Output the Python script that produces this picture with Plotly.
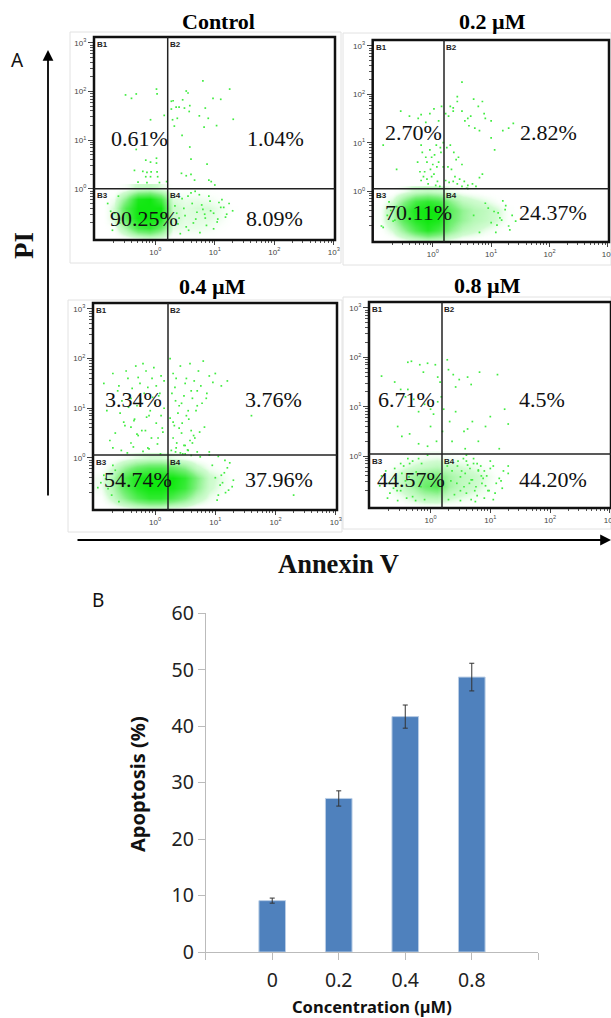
import plotly.graph_objects as go

W, H = 611, 1018

# ---------- Bar chart data ----------
concentrations = ["0", "0.2", "0.4", "0.8"]
apoptosis = [9.1, 27.2, 41.7, 48.7]
apoptosis_err = [0.45, 1.35, 2.05, 2.45]
y_ticks = [0, 10, 20, 30, 40, 50, 60]

# ---------- Flow cytometry: panel names and gate percentages (B1, B2, B3, B4) ----------
panel_names = ["Control", "0.2 µM", "0.4 µM", "0.8 µM"]
pct_control = ["0.61%", "1.04%", "90.25%", "8.09%"]
pct_02 = ["2.70%", "2.82%", "70.11%", "24.37%"]
pct_04 = ["3.34%", "3.76%", "54.74%", "37.96%"]
pct_08 = ["6.71%", "4.5%", "44.57%", "44.20%"]

# density: x / y decades of the grid, rows bottom to top
density_x = [-0.9, -0.7, -0.5, -0.3, -0.1, 0.1, 0.3, 0.5, 0.7, 0.9, 1.1, 1.3]
density_y = [-1.0, -0.8, -0.6, -0.4, -0.2, 0.0]
density_control = [
    [0, 0, .05, .12, .18, .12, .02, .02, .02, .01, 0, 0],
    [0, .05, .35, .75, .85, .6, .12, .1, .1, .08, .03, 0],
    [0, .15, .65, 1, 1, .95, .18, .12, .12, .12, .08, .01],
    [0, .15, .7, 1, 1, 1, .18, .12, .14, .14, .09, .02],
    [0, .08, .45, .95, 1, .75, .13, .1, .1, .08, .04, 0],
    [0, 0, .06, .18, .22, .12, .02, .02, .02, .01, 0, 0],
]
density_02 = [
    [0, .02, .1, .2, .3, .25, .12, .05, .03, .01, 0, 0],
    [.02, .15, .4, .7, .9, .75, .45, .25, .18, .1, .04, 0],
    [.05, .3, .65, .9, 1, .95, .6, .4, .28, .22, .14, .04],
    [.05, .3, .7, .95, 1, 1, .65, .42, .3, .24, .15, .04],
    [.01, .15, .45, .75, .85, .75, .45, .25, .18, .12, .05, 0],
    [0, .01, .08, .18, .22, .18, .08, .04, .02, 0, 0, 0],
]
density_04 = [
    [0, .03, .08, .15, .2, .2, .12, .08, .02, .01, 0, 0],
    [.03, .2, .45, .7, .85, .85, .7, .5, .25, .1, .02, 0],
    [.08, .3, .65, .9, 1, 1, .95, .8, .45, .18, .08, .01],
    [.08, .3, .7, .95, 1, 1, 1, .85, .5, .2, .1, .02],
    [.02, .15, .4, .6, .7, .7, .6, .45, .2, .08, .03, 0],
    [0, .01, .06, .12, .15, .15, .1, .06, .02, 0, 0, 0],
]
density_08 = [
    [0, 0, .01, .04, .07, .07, .04, .02, .01, .01, 0, 0],
    [0, .03, .1, .2, .32, .36, .22, .15, .1, .05, .01, 0],
    [.01, .07, .2, .36, .58, .68, .36, .24, .18, .1, .03, 0],
    [.01, .08, .2, .36, .48, .52, .36, .25, .2, .12, .05, .01],
    [0, .03, .08, .15, .2, .25, .2, .14, .1, .05, .02, 0],
    [0, 0, .01, .04, .07, .08, .05, .03, .01, 0, 0, 0],
]

# individual dots, as decades (log10) of Annexin V and PI
ctrl_x = [-.5, -.4, -.32, .02, .03, -.08, .15, .27, .3, .27, .35, .4, .46, .52, .55, .58, .49, .57, .37, .29, .32, .45,
          .84, .89, .74, .82, 1.03, .97, 1.1, 1.25, .8, 1.31, .58, .6, .87, .44, .52, .6, .66, .9, .94, 1.0, -.32, -.16,
          -.08, .02, .02, -.35, -.21, -.14, -.07, .03, -.16, -.08, -.29, -.14, .04, .19, .07,
          .33, .38, .45, .5, .56, .62, .68, .74, .8, .86, .92, .98, 1.04, 1.1, 1.18, 1.24, 1.3, .42, .55, .7, .84, .98,
          1.12, .36, .48, .64, .78, .93, 1.07, 1.2, .4, .6, .75, .9, 1.05, .52, .67, .83, 1.15, -.75, -.68, -.8, -.6, -.72, -.62]
ctrl_y = [1.93, 1.86, 1.95, 2.05, 1.95, 1.42, 1.51, 1.8, 1.81, 1.64, 1.68, 1.68, 1.83, 2.01, 1.97, 1.71, 1.66, 1.59, 1.45, 1.42, 1.29, 1.1,
          1.66, 1.45, 1.5, 1.27, 1.3, 1.86, 1.84, 2.05, 2.22, 1.43, .86, .61, .51, .32, .27, .3, .18, .18, .15, .08, .81, .59,
          .55, .63, .53, .38, .36, .34, .35, .35, .25, .25, .14, .13, .25, .15, .13,
          -.35, -.72, -.2, -.55, -.85, -.3, -.62, -.12, -.42, -.75, -.25, -.5, -.68, -.38, -.58, -.3, -.45, -.92, -.15, -.48, -.6, -.82,
          -.22, -.5, -.4, -.7, -.33, -.45, -.28, -.52, -.6, -.08, -.9, -.15, -.62, -.78, -.05, -.52, -.38, -.46, -.5, -.3, -.7, -.85, -.15]
p02_x = [-.55, -.4, -.25, -.2, -.12, -.05, .02, .1, .15, .22, .27, .3, .35, .42, .5, .55, .6, .65, .7, .78, .85, .9, 1.0, 1.2, 1.3, 1.38,
         .5, .42, .35, .62, .72, .8, .88, -.85, -.62, -.2, -.18, -.12, -.1, -.05, 0, .03, .06, .1, .14, .18, -.22, -.16, -.1, -.04, .02, .08,
         .24, .3, .36, .4, .44, .5, .26, .32, .38, .46, .54, .6, .68, .74, .8, .85, .22, .28, .35, .42, .12, .05, -.02, -.08,
         -.14, -.2, -.26, -.02, .07, .13, .18,
         1.0, 1.06, 1.12, 1.18, 1.24, 1.3, 1.36, 1.42, 1.05, 1.15, 1.25, 1.32, .95, 1.1, 1.2, .9, 1.0, 1.08, -.9, -.85, -.78, -.72, -.68, -.62, -.88, -.75, -.65, .8, .7, .6, .5, .58]
p02_y = [1.65, 1.55, 1.5, 1.58, 1.42, 1.6, 1.7, 1.45, 1.75, 1.6, 1.55, 1.75, 1.72, 1.85, 1.65, 1.45, 1.5, 1.55, 1.9, 1.75, 1.85, 1.5, 1.45, 1.25, 1.3, 1.4,
         2.25, 1.95, 1.65, 1.35, 1.3, 1.25, 1.6, .95, .45, .95, .8, .7, .6, .85, .55, .75, .95, .6, .8, .5, .4, .3, .25, .45, .35, .2,
         .9, .95, .8, .65, .7, .55, .5, .45, .3, .25, .2, .12, .15, .1, .28, .35, .22, .18, .2, .15, .1, .12, .3, .15, .4, .22, .6, .7, .5, .9, 1.0, 1.1, .85,
         -.45, -.6, -.38, -.72, -.5, -.62, -.42, -.55, -.3, -.8, -.35, -.7, -.2, -.25, -.65, -.85, -.12, -.75, -.5, -.4, -.62, -.32, -.72, -.22, -.6, -.85, -.5, .05, .1, .06, .08, .03]
p04_x = [-.85, -.7, -.6, -.45, -.32, -.25, -.15, -.05, .02, .1, .15, -.55, -.4, -.3, -.18, -.08, 0, .08, .15, -.5, -.35, -.22, -.1, .02, .12, -.75, -.4, -.28, -.12, .05,
         .25, .3, .35, .42, .5, .58, .65, .72, .8, .9, 1.0, 1.1, 1.2, .28, .34, .4, .48, .55, .62, .7, .78, .85, .25, .32, .38, .45, .52, .6, .68, .3, .36, .44, .5, .58, .64, .27, .35, .42, .48, .55, .62, .7, .9,
         1.6, 2.3, 1.0, 1.08, 1.15, 1.22, 1.3, 1.05, 1.12, 1.2, 1.28, .95, 1.03, 1.1, 1.17, 1.24, -.9, -.85, -.78, -.72, -.66, -.6, -.95, -.82, -.7, .6, .75, .9, 1.05, .5, 1.16,
         -.62, -.48, -.38, -.28, -.2, -.12, -.02, .06, -.58, -.44, -.34, -.24, -.14, -.04, .1, -.8, -.66, -.52, -.4, -.3, -.16, -.06, .04, .13, -.7, -.56, -.46, -.36, -.2, -.1, .09, .33, .44, .52, .6, .7, .76, .86, .96, .3, .4, .56, .66, .74, .82, .34, .46, .54]
p04_y = [1.5, 1.7, 1.45, 1.6, 1.85, 1.5, 1.75, 1.6, 1.45, 1.65, 1.55, 1.15, 1.2, 1.05, 1.3, .95, 1.1, 1.3, 1.0, .65, .75, .55, .85, .7, .6, .35, .3, .45, .2, .4,
         2.0, 1.7, 1.6, 1.85, 1.5, 1.9, 1.55, 1.75, 1.95, 1.65, 1.7, 1.45, 1.55, 1.3, 1.15, 1.05, 1.25, .95, 1.2, 1.35, 1.1, 1.2, .8, .65, .9, .7, .85, .55, .95, .4, .3, .5, .25, .35, .45, .15, .2, .1, .25, .15, .3, .12, .12,
         .85, -.75, -.4, -.55, -.3, -.65, -.45, -.75, -.5, -.2, -.58, -.15, -.85, -.35, -.7, -.1, -.5, -.35, -.62, -.75, -.25, -.88, -.6, -.42, -.15, .05, .02, .06, .03, .08, -.05,
         1.35, 1.75, 1.4, 1.62, 1.9, 1.42, 1.82, 1.25, .9, 1.02, .78, 1.18, .82, 1.22, .85, .95, .5, .72, .62, .48, .55, .4, .28, .52, .2, .15, .1, .22, .13, .18, .08, 1.42, 1.1, 1.6, 1.35, 1.05, 1.45, 1.3, 1.52, .72, .6, .78, .4, .52, .62, .12, .08, .16]
p08_x = [-.82, -.38, -.32, -.18, -.12, -.05, .08, .12, .16, .28, .3, .38, .42, .48, .62, .68, .82, 1.12, -.6, -.5, -.42, -.38, -.28, -.2, -.1, 0, .05, .12, .18, .22, .32, .42, .56, .62, .7, .92, 1.0, 1.24, 1.3,
         -.55, -.48, -.35, -.2, -.05, 0, .1, .2, .36, .58, .8, 1.15]
p08_y = [1.62, 1.9, 1.92, 1.85, 1.7, 1.88, 1.85, 1.6, 1.5, 1.95, 1.75, 1.65, 1.4, 1.55, 1.6, 1.45, 1.7, 1.65, 1.5, 1.35, 1.2, 1.35, 1.15, .9, 1.05, .95, .85, 1.1, 1.2, .95, .7, .9, .5, .55, .7, .6, .8, .95, .65,
         .6, .4, .45, .25, .2, .6, .3, .5, .3, .15, .3, .15]
p08_low_x = [-.85, -.75, -.68, -.6, -.55, -.45, -.35, -.82, -.7, -.6, -.5, -.4, -.3, -.2, -.72, -.62, -.48, -.38, -.25, -.15, -.05, .45, .5, .58, .65, .72, .78, .85, .92, 1.0, 1.08, 1.15, 1.22, 1.3, .5, .6, .72, .8, .9, 1.0, 1.1, 1.2, 1.3, .55, .68, .78, .88, .98, 1.05, 1.18, .6, .75, .9, 1.05,
             .28, .34, .4, .46, .52, .56, .62, .68, .74, .8, .86, .94, .3, .36, .44, .5, .6, .66, .7, .76, .84, .96, -.5, -.42, -.3, -.24, -.16, -.1, -.56, -.36]
p08_low_y = [-.6, -.3, -.75, -.45, -.9, -.2, -.15, -.4, -.55, -.25, -.7, -.85, -.1, -.05, -.85, -.65, -.35, -.05, -.9, -.15, .02, -.2, -.7, -.35, -.55, -.15, -.8, -.4, -.6, -.25, -.75, -.45, -.3, -.2, -.9, -.1, -.05, -.3, -.85, -.1, -.55, -.65, -.35, -.05, -.88, -.15, -.45, -.7, -.2, -.5, .02, -.92, -.3, -.88,
             -.2, -.5, -.78, -.1, -.3, -.62, -.18, -.48, -.7, -.28, -.55, -.4, -.88, -.3, -.55, -.42, -.75, -.25, -.48, -.62, -.2, -.7, -.15, -.5, -.82, -.32, -.62, -.88, -.7, -.42]

panels = [
    dict(frame=(94, 335, 37, 240), box=(70, 341, 32, 263), gate=(167.7, 188.7), title=(218, 21),
         names=panel_names[0], pct=pct_control, z=density_control, px_=ctrl_x, py_=ctrl_y,
         pos=[(139, 138), (275, 138), (144, 218), (274, 218)]),
    dict(frame=(372.7, 609, 40, 242), box=(343, 611, 33, 265), gate=(444, 188.7), title=(492, 21),
         names=panel_names[1], pct=pct_02, z=density_02, px_=p02_x, py_=p02_y,
         pos=[(413, 132), (548, 132), (418, 212), (553, 212)]),
    dict(frame=(93, 337, 303, 510), box=(68, 342, 300, 532), gate=(168, 455), title=(212, 286),
         names=panel_names[2], pct=pct_04, z=density_04, px_=p04_x, py_=p04_y,
         pos=[(133, 399), (273, 399), (138, 479), (279, 479)]),
    dict(frame=(369, 611, 302, 508), box=(343, 611, 297, 529), gate=(442, 454), title=(487, 285),
         names=panel_names[3], pct=pct_08, z=density_08, px_=p08_x + p08_low_x, py_=p08_y + p08_low_y,
         pos=[(406, 399), (542, 399), (411, 479), (553, 479)]),
]

GREEN_SCALE = [[0, "rgba(255,255,255,0)"], [0.15, "rgba(190,250,190,0.7)"], [0.5, "#7CF07C"], [1, "#10E810"]]
decades = [1, 10, 100, 1000]
dec_labels = ["10<sup>0</sup>", "10<sup>1</sup>", "10<sup>2</sup>", "10<sup>3</sup>"]
minor_ticks = [m * d for d in (0.1, 1, 10, 100) for m in (2, 3, 4, 5, 6, 7, 8, 9)]

def px(x):
    return x / W

def py(y):
    return 1 - y / H

fig = go.Figure()
layout = dict(shapes=[], annotations=[])
XR = [-1.03, 3.02]
YR = [-1.05, 3.12]

def page_text(text, x, y, size, family, angle=0, anchor="center", color="#111"):
    layout["annotations"].append(dict(text=text, xref="x6", yref="y6", x=x, y=y, showarrow=False,
                                      xanchor=anchor, yanchor="middle", textangle=angle,
                                      font=dict(family=family, size=size, color=color)))

for i, p in enumerate(panels):
    n = i + 1
    x0, x1, y0, y1 = p["frame"]
    xn, yn = f"xaxis{n}", f"yaxis{n}"
    xa, ya = f"x{n}", f"y{n}"
    fig.add_trace(go.Heatmap(x=[10 ** v for v in density_x], y=[10 ** v for v in density_y], z=p["z"],
                             colorscale=GREEN_SCALE, zmin=0, zmax=1, zsmooth="best", showscale=False,
                             hoverinfo="skip", xaxis=xa, yaxis=ya))
    fig.add_trace(go.Scatter(x=[10 ** v for v in p["px_"]], y=[10 ** v for v in p["py_"]], mode="markers",
                             marker=dict(size=1.7, color="#40EC40", symbol="square", line=dict(width=0)),
                             showlegend=False, hoverinfo="skip", xaxis=xa, yaxis=ya))
    layout[xn] = dict(type="log", range=XR, domain=[px(x0), px(x1)], anchor=ya, automargin=False,
                      tickmode="array", tickvals=decades, ticktext=dec_labels, ticklabeloverflow="allow",
                      ticks="outside", ticklen=4, tickwidth=1, tickcolor="#444",
                      minor=dict(tickmode="array", tickvals=minor_ticks, ticks="outside", ticklen=2, tickcolor="#555"),
                      tickfont=dict(family="Liberation Sans", size=8, color="#444"),
                      showgrid=False, zeroline=False, showline=False)
    layout[yn] = dict(type="log", range=YR, domain=[py(y1), py(y0)], anchor=xa, automargin=False,
                      tickmode="array", tickvals=decades, ticktext=dec_labels, ticklabeloverflow="allow",
                      ticks="outside", ticklen=5, tickwidth=1, tickcolor="#444",
                      minor=dict(tickmode="array", tickvals=minor_ticks, ticks="outside", ticklen=3, tickcolor="#555"),
                      tickfont=dict(family="Liberation Sans", size=8, color="#444"),
                      showgrid=False, zeroline=False, showline=False)
    bx0, bx1, by0, by1 = p["box"]
    layout["shapes"].append(dict(type="rect", xref="paper", yref="paper", x0=px(bx0), x1=px(bx1), y0=py(by1), y1=py(by0),
                                 line=dict(color="#E2E2E2", width=1), layer="below"))
    layout["shapes"].append(dict(type="rect", xref="paper", yref="paper", x0=px(x0), x1=px(x1), y0=py(y1), y1=py(y0),
                                 line=dict(color="#111", width=2.5)))
    gx, gy = p["gate"]
    layout["shapes"].append(dict(type="line", xref="paper", yref="paper", x0=px(gx), x1=px(gx), y0=py(y1), y1=py(y0),
                                 line=dict(color="#222", width=1.5)))
    layout["shapes"].append(dict(type="line", xref="paper", yref="paper", x0=px(x0), x1=px(x1), y0=py(gy), y1=py(gy),
                                 line=dict(color="#222", width=1.5)))
    page_text(f"<b>{p['names']}</b>", p["title"][0], p["title"][1], 22, "Liberation Serif", color="#000")
    for txt, (tx, ty) in zip(p["pct"], p["pos"]):
        page_text(txt, tx, ty, 22, "Liberation Serif")
    for lab, (lx, ly) in zip(["B1", "B2", "B3", "B4"],
                             [(x0 + 1, y0 + 7), (gx, y0 + 7), (x0 + 1, gy + 7), (gx, gy + 7)]):
        page_text(f"<b>{lab}</b>", lx, ly, 8, "Liberation Sans", anchor="left", color="#222")

# ---------- Bar chart ----------
bar_positions = [0, 1, 2, 3]
fig.add_trace(go.Bar(x=bar_positions, y=apoptosis, width=0.4,
                     marker=dict(color="#4F81BD", line=dict(color="#B9CDE5", width=1)),
                     error_y=dict(type="data", array=apoptosis_err, color="#333", thickness=1, width=2.5),
                     showlegend=False, hoverinfo="skip", xaxis="x5", yaxis="y5"))
layout["xaxis5"] = dict(domain=[px(205.7), px(538.3)], range=[-1, 4], anchor="y5", automargin=False,
                        tickmode="array", tickvals=[-1, 0, 1, 2, 3, 4], ticktext=[""] + concentrations + [""],
                        ticks="outside", ticklen=7, tickcolor="#BBB", showgrid=False, zeroline=False,
                        showline=True, linecolor="#BBB", linewidth=1, ticklabelstandoff=4,
                        tickfont=dict(family="Noto Sans", size=19.5, color="#222"))
layout["yaxis5"] = dict(domain=[py(952), py(613.3)], range=[0, 60], anchor="x5", automargin=False,
                        tickmode="array", tickvals=y_ticks, ticks="outside", ticklen=7, tickcolor="#BBB",
                        showgrid=False, zeroline=False, showline=True, linecolor="#BBB", linewidth=1,
                        tickfont=dict(family="Noto Sans", size=19.5, color="#222"))

# ---------- Invisible full-page axes, in page pixels, that carry the free texts and arrows ----------
fig.add_trace(go.Scatter(x=[None], y=[None], mode="markers", showlegend=False, hoverinfo="skip", xaxis="x6", yaxis="y6"))
layout["xaxis6"] = dict(domain=[0, 1], range=[0, W], anchor="y6", visible=False, fixedrange=True, automargin=False)
layout["yaxis6"] = dict(domain=[0, 1], range=[H, 0], anchor="x6", visible=False, fixedrange=True, automargin=False)

page_text("A", 17, 60, 19, "Noto Sans")
page_text("B", 98, 600, 19, "Noto Sans")
page_text("<b>PI</b>", 24, 246, 27, "Liberation Serif", angle=-90)
page_text("<b>Annexin V</b>", 338, 564, 26.5, "Liberation Serif")
page_text("<b>Apoptosis (%)</b>", 137, 784, 20, "Noto Sans", angle=-90)
page_text("<b>Concentration (µM)</b>", 372, 1006, 16.5, "Noto Sans")

for (tail_x, tail_y, head_x, head_y) in [(48, 497, 48, 50), (76, 540, 611, 540)]:
    layout["annotations"].append(dict(text="", xref="x6", yref="y6", axref="x6", ayref="y6",
                                      x=head_x, y=head_y, ax=tail_x, ay=tail_y, showarrow=True,
                                      arrowhead=2, arrowsize=1.2, arrowwidth=1.8, arrowcolor="#000"))

fig.update_layout(width=W, height=H, margin=dict(l=0, r=0, t=0, b=0), paper_bgcolor="white", plot_bgcolor="rgba(0,0,0,0)",
                  showlegend=False, **layout)
fig.write_html("out.html", post_script="document.body.style.margin='0';", config={"displayModeBar": False})
